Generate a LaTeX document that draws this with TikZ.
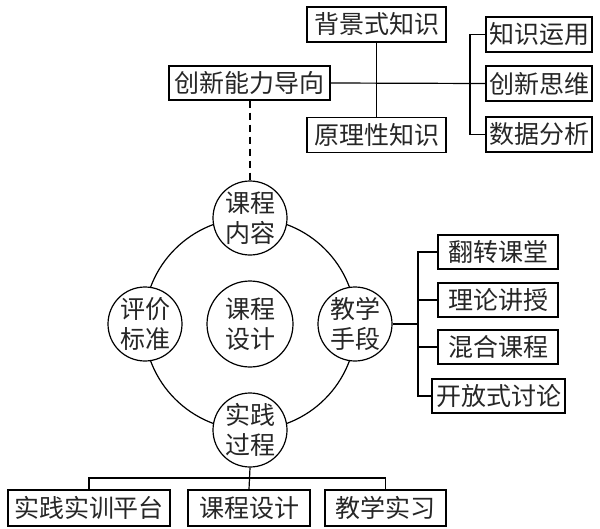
\documentclass[tikz,border=0pt]{standalone}
\usepackage{fontspec}
\newfontfamily\cjk{Noto Sans CJK SC}
\begin{document}
\begin{tikzpicture}[x=1pt,y=-1pt,line width=1.2pt,
  every node/.style={font=\cjk\fontsize{25}{30}\selectfont,inner sep=0pt,text=black!85},
  bx/.style={draw,rectangle,minimum height=35pt},
  cir/.style={draw,circle,minimum size=74pt,align=center},
  ln/.style={line width=1.2pt}]
\useasboundingbox (0,0) rectangle (600,528);
% top boxes
\node[bx,minimum width=139pt] (bj) at (376.5,24.5) {背景式知识};
\node[bx,minimum width=161pt,minimum height=34pt] (cx) at (249.5,83) {创新能力导向};
\node[bx,minimum width=139pt] (yl) at (376.5,135) {原理性知识};
\node[bx,minimum width=106pt] (zs) at (539,34.5) {知识运用};
\node[bx,minimum width=106pt] (cs) at (539,83.5) {创新思维};
\node[bx,minimum width=106pt] (sj) at (539,134.5) {数据分析};
% circles
\node[draw,circle,minimum size=212pt] (big) at (250,324) {};
\node[cir,fill=white] (kn) at (250,218) {课程\\内容};
\node[cir,fill=white] (pj) at (145,324) {评价\\标准};
\node[cir,fill=white] (js) at (355,324) {教学\\手段};
\node[cir,fill=white] (sjgc) at (250,430) {实践\\过程};
\node[cir,minimum size=86pt] (kcsj) at (250,324) {课程\\设计};
% right boxes
\node[bx,minimum width=120pt,minimum height=34pt] (fz) at (498,252) {翻转课堂};
\node[bx,minimum width=120pt,minimum height=34pt] (ll) at (498,300) {理论讲授};
\node[bx,minimum width=120pt,minimum height=34pt] (hh) at (498,347) {混合课程};
\node[bx,minimum width=133pt,minimum height=34pt] (kf) at (498.5,396) {开放式讨论};
% bottom boxes
\node[bx,minimum width=162pt,minimum height=36pt] (sx) at (89,508) {实践实训平台};
\node[bx,minimum width=122pt,minimum height=36pt] (kc) at (249,508) {课程设计};
\node[bx,minimum width=121pt,minimum height=36pt] (jx) at (385.5,508) {教学实习};
% connectors top
\draw[ln] (bj.south) -- (yl.north);
\draw[ln] (cx.east) -- (cs.west);
\coordinate (ra) at (470,0);
\draw[ln] (zs.west) -| (ra |- sj.west) -- (sj.west);
\draw[ln,dashed,dash pattern=on 7pt off 5pt] (cx.south -| kn.north) -- (kn.north);
% right
\coordinate (rb) at (418,0);
\draw[ln] (js.east) -- (rb |- js.east);
\draw[ln] (fz.west) -| (rb |- kf.west) -- (kf.west);
\draw[ln] (ll.west) -- (rb |- ll.west);
\draw[ln] (hh.west) -- (rb |- hh.west);
% bottom
\coordinate (bb) at (0,478);
\draw[ln] (sjgc.south) -- (kc.north);
\draw[ln] (sx.north) |- (bb -| kc.north) -| (jx.north);
\end{tikzpicture}
\end{document}
